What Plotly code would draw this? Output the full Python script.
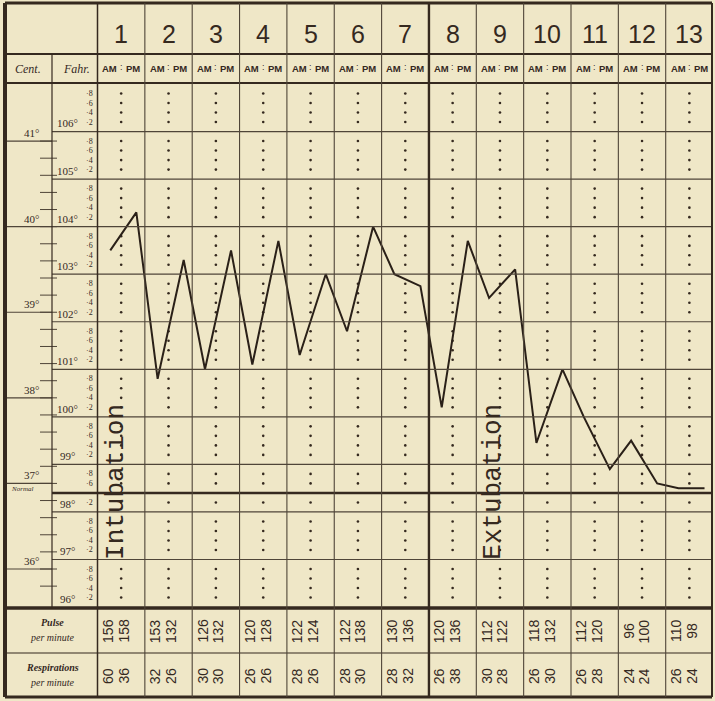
import plotly.graph_objects as go

# ---------------- data ----------------
days = list(range(1, 14))
day_labels = [str(d) for d in days]
temp_am = [103.5, 100.8, 101.0, 101.1, 101.3, 101.8, 103.0, 100.2, 102.5, 99.45, 100.0, 99.5, 98.5]
temp_pm = [104.3, 103.3, 103.5, 103.7, 103.0, 104.0, 102.75, 103.7, 103.1, 101.0, 98.9, 98.6, 98.5]
pulse_am = [156, 153, 126, 120, 122, 122, 130, 120, 112, 118, 112, 96, 110]
pulse_pm = [158, 132, 132, 128, 124, 138, 136, 136, 122, 132, 120, 100, 98]
resp_am = [60, 32, 30, 26, 28, 28, 28, 26, 30, 26, 26, 24, 26]
resp_pm = [36, 26, 30, 26, 26, 30, 32, 38, 28, 30, 28, 24, 24]
fahr_degrees = list(range(96, 107))
cent_degrees = [36, 37, 38, 39, 40, 41]
events = ["Intubation", "Extubation"]
event_days = [1, 9]

# ---------------- styling / geometry ----------------
W, H = 715, 701
BG = "#efe7c7"
INK = "#35291f"
GRID = "#4f4538"
PX0, PXU = 97.5, 47.35          # pixel of day-boundary 0, pixels per day
FTOP_PX, PXF = 84, 47.55         # pixel of 107F, pixels per degree F
X_RANGE = [(0 - PX0) / PXU, (W - PX0) / PXU]
Y_RANGE = [107 - (H - FTOP_PX) / PXF, 107 + FTOP_PX / PXF]


def ux(px):
    return (px - PX0) / PXU


def pp(py):
    return 1 - py / H


AM_OFF, PM_OFF = 0.27, 0.82
NORMAL_LINE_F = 98.4

fig = go.Figure()

# dotted AM:PM separators (one dot every 0.2 F)
dx, dy = [], []
for d in days:
    for n in fahr_degrees:
        for k in (0.2, 0.4, 0.6, 0.8):
            v = round(n + k, 1)
            if abs(v - NORMAL_LINE_F) < 0.05:
                continue
            dx.append(d - 0.5)
            dy.append(v)
fig.add_trace(go.Scatter(x=dx, y=dy, mode="markers",
                         marker=dict(size=2.6, color=INK), hoverinfo="skip"))

# temperature curve
tx, ty = [], []
for i, d in enumerate(days):
    tx += [d - 1 + AM_OFF, d - 1 + PM_OFF]
    ty += [temp_am[i], temp_pm[i]]
fig.add_trace(go.Scatter(x=tx, y=ty, mode="lines",
                         line=dict(color="#2a2018", width=2.0), hoverinfo="skip"))

shapes = []


def hline(x0, x1, y, w, yref="y", color=INK):
    shapes.append(dict(type="line", xref="x", yref=yref, x0=x0, x1=x1, y0=y, y1=y,
                       line=dict(color=color, width=w)))


def vline(x, y0, y1, w, yref="paper", color=INK):
    shapes.append(dict(type="line", xref="x", yref=yref, x0=x, x1=x, y0=y0, y1=y1,
                       line=dict(color=color, width=w)))


XL, XR = ux(5), ux(712)
X_CF = ux(52)

# Fahrenheit degree lines
for n in fahr_degrees[1:]:
    hline(X_CF, XR, n, 1.2, color=GRID)
hline(X_CF, XR, NORMAL_LINE_F, 2.6)
# Centigrade lines
for c in cent_degrees:
    hline(XL, X_CF, c * 1.8 + 32, 1.2, color=GRID)
# Centigrade small ticks every 0.2 C
for i in range(0, 27):
    c = 35.8 + i * 0.2
    f = c * 1.8 + 32
    if f < 96.1 or f > 106.9:
        continue
    hline(ux(40), ux(57), f, 1.0, color=GRID)

# frame horizontal lines
hline(XL, XR, 107 + 1 / PXF, 2.2, yref="y")
for py, w in [(3, 3), (54, 2), (608, 3.5), (653, 1.2), (697, 3)]:
    shapes.append(dict(type="line", xref="x", yref="paper", x0=XL, x1=XR, y0=pp(py), y1=pp(py),
                       line=dict(color=INK, width=w)))

# vertical lines
vline(XL, pp(3), pp(697), 4)
vline(XR, pp(3), pp(697), 2)
vline(0, pp(3), pp(697), 1.5)
vline(X_CF, pp(54), pp(608), 1.2)
for d in days[:-1]:
    vline(d, pp(3), pp(697), 2.4 if d == 7 else 1.1, color=INK if d == 7 else GRID)

ann = []


def text(x, y, s, size, family="Liberation Serif", yref="paper", angle=0, color=INK, **kw):
    ann.append(dict(x=x, y=y, xref="x", yref=yref, text=s, showarrow=False,
                    xanchor="center", yanchor="middle",
                    textangle=angle, font=dict(size=size, family=family, color=color), **kw))


# header
for i, d in enumerate(days):
    text(d - 0.5, pp(34), day_labels[i], 25, family="Liberation Sans")
    text(d - 0.5 - 0.24, pp(69), "<b>AM</b>", 9.5, family="Liberation Sans")
    text(d - 0.5 + 0.24, pp(69), "<b>PM</b>", 9.5, family="Liberation Sans")
    text(d - 0.5, pp(67), ":", 9, family="Liberation Sans")
text(ux(28), pp(69), "<i>Cent.</i>", 12)
text(ux(76), pp(69), "<i>Fahr.</i>", 12)

# Fahrenheit labels
for n in fahr_degrees:
    text(ux(67), n + 0.17, f"{n}°", 11, yref="y")
    for k in (0.2, 0.4, 0.6, 0.8):
        v = round(n + k, 1)
        if abs(v - 98.4) < 0.05:
            continue
        text(ux(89), v, f"·{int(round(k * 10))}", 8, yref="y")
# Centigrade labels
for c in cent_degrees:
    text(ux(31), c * 1.8 + 32 + 0.17, f"{c}°", 11, yref="y")
text(ux(22), NORMAL_LINE_F + 0.08, "<i>Normal</i>", 7, yref="y")

# events
for e, d in zip(events, event_days):
    xe = d - 1 + (0.39 if d == 1 else 0.35)
    text(xe, 107 - (482 - FTOP_PX) / PXF, e, 26, family="Liberation Mono", yref="y", angle=-90)

# footer
text(ux(52), pp(622), "<b><i>Pulse</i></b>", 10)
text(ux(52), pp(637), "<i>per minute</i>", 10)
text(ux(52), pp(667), "<b><i>Respirations</i></b>", 10)
text(ux(52), pp(682), "<i>per minute</i>", 10)
for i, d in enumerate(days):
    text(d - 1 + 0.22, pp(631), str(pulse_am[i]), 14, family="Liberation Sans", angle=-90)
    text(d - 1 + 0.55, pp(631), str(pulse_pm[i]), 14, family="Liberation Sans", angle=-90)
    text(d - 1 + 0.22, pp(676), str(resp_am[i]), 14, family="Liberation Sans", angle=-90)
    text(d - 1 + 0.55, pp(676), str(resp_pm[i]), 14, family="Liberation Sans", angle=-90)

fig.update_layout(
    width=W, height=H, margin=dict(l=0, r=0, t=0, b=0),
    paper_bgcolor=BG, plot_bgcolor=BG, showlegend=False,
    xaxis=dict(range=X_RANGE, visible=False, fixedrange=True),
    yaxis=dict(range=Y_RANGE, visible=False, fixedrange=True),
    shapes=shapes, annotations=ann,
)

fig.write_html("out.html", config={"displayModeBar": False},
               post_script="document.body.style.margin='0';document.body.style.overflow='hidden';")
